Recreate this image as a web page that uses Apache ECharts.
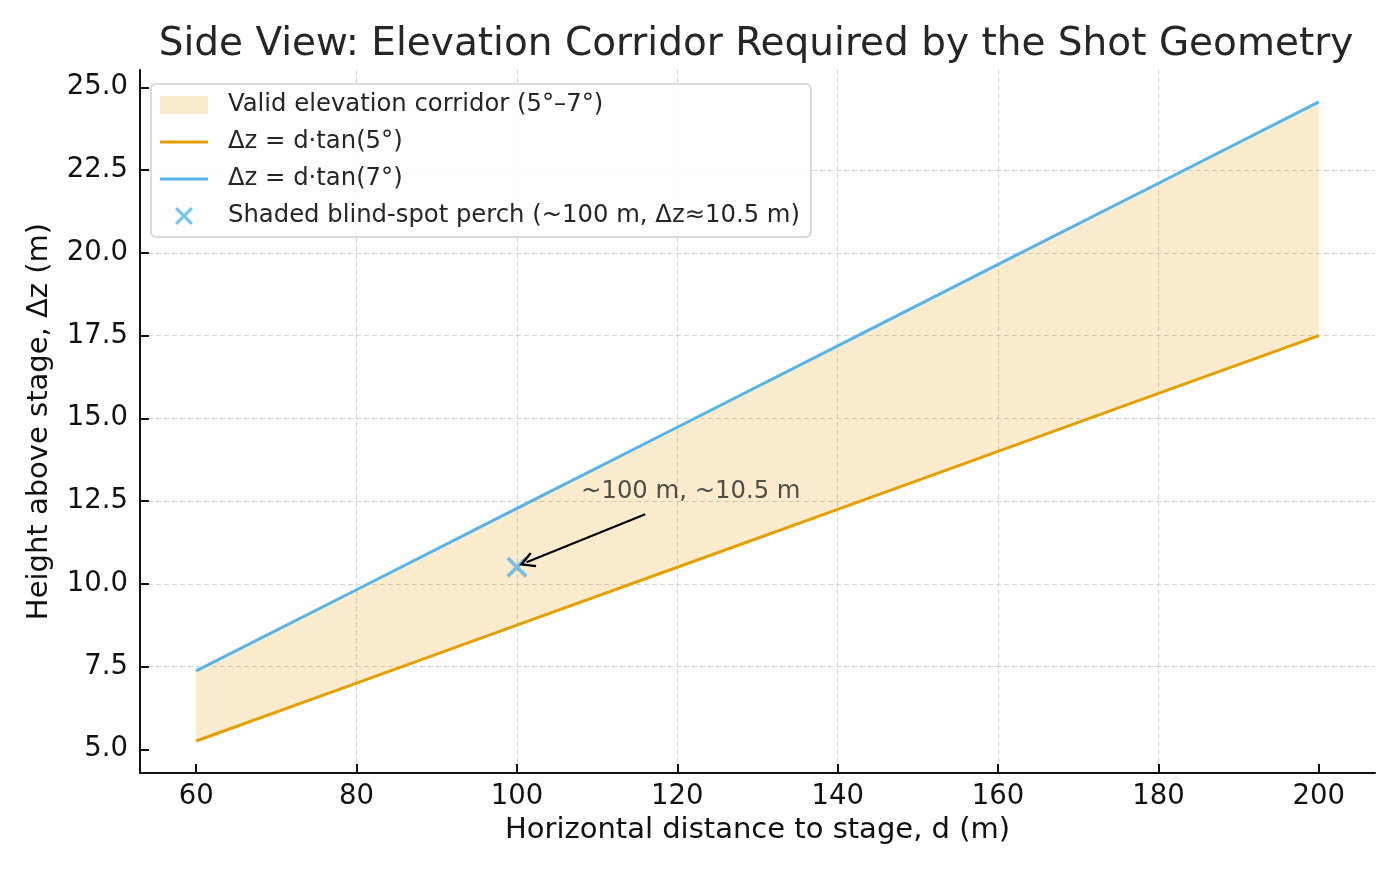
<!DOCTYPE html>
<html>
<head>
<meta charset="utf-8">
<script src="https://cdn.jsdelivr.net/npm/echarts@6/dist/echarts.min.js"></script>
<style>
  html, body { margin: 0; padding: 0; background: #fff; }
  #chart { width: 1400px; height: 875px; }
</style>
</head>
<body>
<div id="chart"></div>
<script>
// Side view of the elevation corridor: two straight bounds plus the chosen perch.
const distance = [60, 80, 100, 120, 140, 160, 180, 200];
const heightAt5 = [5.25, 7.00, 8.75, 10.50, 12.25, 14.00, 15.75, 17.50];
const heightAt7 = [7.37, 9.82, 12.28, 14.73, 17.19, 19.65, 22.10, 24.56];
const perch = [[100, 10.5]];
const xTicks = [60, 80, 100, 120, 140, 160, 180, 200];
const yTicks = [5, 7.5, 10, 12.5, 15, 17.5, 20, 22.5, 25];
const annotationText = '~100 m, ~10.5 m';
const annotationAt = [[108, 12.77]];
const arrowFrom = [116, 12.1];
const arrowTo = [101.2, 10.65];

const NAMES = {
  band: 'Valid elevation corridor (5°–7°)',
  low: 'Δz = d·tan(5°)',
  high: 'Δz = d·tan(7°)',
  perch: 'Shaded blind-spot perch (~100 m, Δz≈10.5 m)',
};
const ORANGE = '#E69F00';
const BLUE = '#56B4E9';
const FONT = 'DejaVu Sans';
const X_PATH = 'path://M0,1.25 L1.25,0 L5,3.75 L8.75,0 L10,1.25 L6.25,5 L10,8.75 L8.75,10 L5,6.25 L1.25,10 L0,8.75 L3.75,5 Z';
const LINE_ICON = 'path://M0,0 H48 V3 H0 Z';
const CHEVRON = 'path://M0,10 L5,0 L10,10 L8.8,10.8 L5,3.4 L1.2,10.8 Z';

const chart = echarts.init(document.getElementById('chart'), null, { renderer: 'canvas' });

const gridLine = { show: true, lineStyle: { color: '#d4d4d4', width: 1.2, type: [5, 3] },
                   showMinLine: false, showMaxLine: false };

chart.setOption({
  animation: false,
  backgroundColor: '#fff',
  title: {
    text: 'Side View: Elevation Corridor Required by the Shot Geometry',
    left: 751, top: 20, textAlign: 'center',
    textStyle: { fontFamily: FONT, fontSize: 39, fontWeight: 'normal', color: '#262626' },
  },
  grid: { left: 140, right: 25, top: 70, bottom: 102, containLabel: false },
  legend: {
    orient: 'vertical', left: 151, top: 84,
    padding: [9, 11, 9, 9], itemGap: 13, itemWidth: 48, itemHeight: 18,
    backgroundColor: 'rgba(255,255,255,0.85)', borderColor: '#cfcfcf', borderWidth: 1.5, borderRadius: 5,
    textStyle: { fontFamily: FONT, fontSize: 24.3, color: '#262626', padding: [0, 0, 0, 15] },
    data: [
      { name: NAMES.band, icon: 'rect' },
      { name: NAMES.low, icon: LINE_ICON },
      { name: NAMES.high, icon: LINE_ICON },
      { name: NAMES.perch, icon: X_PATH },
    ],
  },
  xAxis: {
    type: 'value', min: 53, max: 207,
    name: 'Horizontal distance to stage, d (m)', nameLocation: 'middle', nameGap: 43,
    nameTextStyle: { fontFamily: FONT, fontSize: 29, color: '#111' },
    axisLine: { lineStyle: { color: '#111', width: 2 } },
    axisTick: { inside: true, length: 9, lineStyle: { color: '#111', width: 2 }, customValues: xTicks },
    axisLabel: { customValues: xTicks, fontFamily: FONT, fontSize: 27.5, color: '#111', margin: 10 },
    splitLine: gridLine,
  },
  yAxis: {
    type: 'value', min: 4.284, max: 25.522,
    name: 'Height above stage, Δz (m)', nameLocation: 'middle', nameGap: 86,
    nameTextStyle: { fontFamily: FONT, fontSize: 29, color: '#111' },
    axisLine: { show: true, lineStyle: { color: '#111', width: 2 } },
    axisTick: { show: true, inside: true, length: 9, lineStyle: { color: '#111', width: 2 }, customValues: yTicks },
    axisLabel: { customValues: yTicks, fontFamily: FONT, fontSize: 27.5, color: '#111', margin: 12,
                 formatter: v => v.toFixed(1) },
    splitLine: gridLine,
  },
  series: [
    {
      name: NAMES.band,
      type: 'custom',
      itemStyle: { color: 'rgba(230,159,0,0.2)' },
      data: distance.map((d, i) => [d, heightAt5[i], heightAt7[i]]),
      encode: { x: 0, y: [1, 2] },
      z: 1,
      renderItem(params, api) {
        if (params.dataIndex !== 0) return null;
        const lower = distance.map((d, i) => api.coord([d, heightAt5[i]]));
        const upper = distance.map((d, i) => api.coord([d, heightAt7[i]])).reverse();
        return { type: 'polygon', shape: { points: lower.concat(upper) },
                 style: { fill: 'rgba(230,159,0,0.2)' } };
      },
    },
    {
      name: NAMES.low, type: 'line', symbol: 'none', z: 3,
      data: distance.map((d, i) => [d, heightAt5[i]]),
      itemStyle: { color: ORANGE }, lineStyle: { color: ORANGE, width: 3 },
    },
    {
      name: NAMES.high, type: 'line', symbol: 'none', z: 3,
      data: distance.map((d, i) => [d, heightAt7[i]]),
      itemStyle: { color: BLUE }, lineStyle: { color: BLUE, width: 3 },
    },
    {
      name: NAMES.perch, type: 'scatter', symbol: X_PATH, symbolSize: 21, z: 4,
      data: perch, itemStyle: { color: BLUE },
    },
    {
      name: 'annotation', type: 'scatter', symbolSize: 0, z: 5, silent: true,
      data: annotationAt,
      label: { show: true, position: 'right', distance: 0, formatter: annotationText,
               fontFamily: FONT, fontSize: 24.3, color: '#262626' },
      markLine: {
        silent: true, symbol: ['none', CHEVRON], symbolSize: [16, 16],
        label: { show: false },
        lineStyle: { color: '#000', width: 2, type: 'solid' },
        data: [[{ coord: arrowFrom }, { coord: arrowTo }]],
      },
    },
  ],
});
</script>
</body>
</html>
